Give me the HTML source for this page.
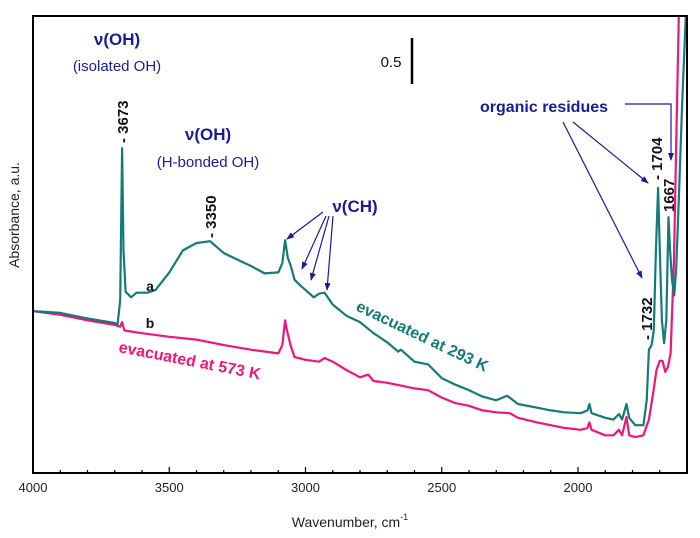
<!DOCTYPE html>
<html><head><meta charset="utf-8"><style>
body{margin:0;background:#fff}
svg{display:block;font-family:"Liberation Sans","DejaVu Sans",sans-serif}
</style></head><body>
<svg id="chart" width="700" height="538" viewBox="0 0 700 538">
<defs>
<clipPath id="plotclip"><rect x="33" y="16" width="654" height="457"/></clipPath>
<marker id="arr" markerWidth="8" markerHeight="8" refX="7" refY="4" orient="auto" markerUnits="userSpaceOnUse"><path d="M0,1 L8,4 L0,7 Z" fill="#1a1a9c"/></marker>
</defs>
<g id="series" clip-path="url(#plotclip)"></g>
<rect x="33" y="16" width="654" height="457" fill="none" stroke="#000" stroke-width="2"/>
<g id="axes"></g>
<text x="350" y="527" text-anchor="middle" font-size="14" fill="#222">Wavenumber, cm<tspan font-size="9" dy="-7">-1</tspan></text>
<text transform="translate(19,215) rotate(-90)" text-anchor="middle" font-size="14" fill="#222">Absorbance, a.u.</text>

<g font-weight="bold" fill="#1a1a9c">
<text x="117" y="45" text-anchor="middle" font-size="17">ν(OH)</text>
<text x="208" y="140" text-anchor="middle" font-size="17">ν(OH)</text>
<text x="355" y="212" text-anchor="middle" font-size="17">ν(CH)</text>
<text x="544" y="112" text-anchor="middle" font-size="16">organic residues</text>
</g>
<g fill="#1a1a9c" font-size="15">
<text x="117" y="71" text-anchor="middle">(isolated OH)</text>
<text x="208" y="167" text-anchor="middle">(H-bonded OH)</text>
</g>
<g fill="#111" font-weight="bold" font-size="15">
<text transform="translate(128,143) rotate(-90)">- 3673</text>
<text transform="translate(216,238) rotate(-90)">- 3350</text>
<text transform="translate(662,180) rotate(-90)">- 1704</text>
<text transform="translate(674,212) rotate(-90)">1667</text>
<text transform="translate(652,340) rotate(-90)">- 1732</text>
</g>
<g stroke="#1a1a9c" stroke-width="1.2" fill="none" marker-end="url(#arr)">
<line x1="323" y1="212" x2="287" y2="239"/>
<line x1="326" y1="216" x2="302" y2="269"/>
<line x1="329" y1="216" x2="311" y2="280"/>
<line x1="333" y1="216" x2="327" y2="290"/>
<line x1="563" y1="122" x2="642" y2="278"/>
<line x1="573" y1="122" x2="648" y2="183"/>
<polyline points="625,104 671,104 671,160"/>
</g>
<text x="391" y="67" text-anchor="middle" font-size="15" fill="#111">0.5</text>
<line x1="412" y1="38" x2="412" y2="84" stroke="#000" stroke-width="2.5"/>
<text x="150" y="291" text-anchor="middle" font-size="14" font-weight="bold" fill="#111">a</text>
<text x="150" y="328" text-anchor="middle" font-size="14" font-weight="bold" fill="#111">b</text>
<text transform="translate(355,310) rotate(25.5)" font-size="16" font-weight="bold" fill="#137b78">evacuated at 293 K</text>
<text transform="translate(118,352) rotate(11)" font-size="16" font-weight="bold" fill="#f0157a">evacuated at 573 K</text>
</svg>
<script>
const wnA = [4000,3900,3800,3700,3690,3680,3673,3668,3660,3640,3620,3580,3550,3500,3450,3400,3350,3300,3250,3200,3150,3100,3085,3075,3065,3055,3040,3020,3000,2970,2950,2930,2900,2850,2800,2750,2700,2660,2650,2600,2550,2500,2450,2400,2350,2300,2260,2220,2150,2100,2050,1990,1965,1958,1950,1900,1870,1850,1838,1822,1812,1790,1760,1748,1740,1730,1722,1714,1706,1700,1692,1684,1676,1668,1662,1655,1647,1640,1630,1618,1605,1598];
const absA = [1.76,1.74,1.68,1.63,1.61,1.88,3.53,2.42,1.97,1.91,1.96,1.96,1.99,2.18,2.42,2.50,2.52,2.39,2.32,2.25,2.17,2.18,2.28,2.53,2.34,2.26,2.10,2.04,1.99,1.91,1.95,1.96,1.83,1.71,1.64,1.52,1.42,1.32,1.34,1.21,1.18,1.03,0.96,0.90,0.83,0.79,0.84,0.75,0.71,0.68,0.66,0.65,0.68,0.75,0.65,0.60,0.58,0.64,0.58,0.75,0.60,0.52,0.52,0.79,1.34,1.39,1.55,2.42,3.10,2.42,1.66,1.41,1.66,2.78,2.42,2.10,1.93,2.20,2.97,4.00,4.92,5.14];
const wnB = [4000,3900,3800,3700,3680,3673,3665,3600,3500,3400,3300,3200,3100,3085,3075,3068,3055,3040,3000,2950,2930,2900,2850,2800,2770,2750,2700,2650,2600,2550,2500,2450,2400,2350,2300,2250,2220,2150,2100,2050,1990,1965,1958,1950,1900,1870,1850,1838,1822,1812,1790,1760,1740,1725,1712,1700,1690,1680,1670,1660,1648,1640,1630,1600];
const absB = [1.76,1.72,1.66,1.61,1.59,1.64,1.55,1.52,1.48,1.45,1.39,1.34,1.30,1.39,1.66,1.55,1.39,1.26,1.23,1.21,1.25,1.21,1.12,1.04,1.07,1.00,0.98,0.95,0.92,0.90,0.82,0.76,0.73,0.68,0.66,0.65,0.60,0.55,0.52,0.49,0.47,0.49,0.55,0.47,0.41,0.41,0.47,0.41,0.61,0.41,0.39,0.41,0.58,0.85,1.12,1.22,1.22,1.10,1.15,1.30,2.28,3.51,4.97,5.14];
const xTicks = [4000,3500,3000,2500,2000];
const xMin = 1600, xMax = 4000, yMin = 0, yMax = 457/92;
const X0 = 33, X1 = 687, Y0 = 473, Y1 = 16;
function xs(w){ return X0 + (xMax - w) / (xMax - xMin) * (X1 - X0); }
function ys(a){ return Y0 - (a - yMin) / (yMax - yMin) * (Y0 - Y1); }
const NS = "http://www.w3.org/2000/svg";
function pathFor(wn, ab){ return wn.map((w,i)=>(i?"L":"M")+xs(w).toFixed(1)+","+ys(ab[i]).toFixed(1)).join(""); }
const g = document.getElementById("series");
const pb = document.createElementNS(NS,"path");
pb.setAttribute("d", pathFor(wnB, absB));
pb.setAttribute("fill","none"); pb.setAttribute("stroke","#f0157a"); pb.setAttribute("stroke-width","2.2"); pb.setAttribute("stroke-linejoin","round");


g.appendChild(pb);
const pa = document.createElementNS(NS,"path");
pa.setAttribute("d", pathFor(wnA, absA));
pa.setAttribute("fill","none"); pa.setAttribute("stroke","#137b78"); pa.setAttribute("stroke-width","2.2"); pa.setAttribute("stroke-linejoin","round");


g.appendChild(pa);
const ax = document.getElementById("axes");
for (let w = 3900; w > 1600; w -= 100) {
  const t = document.createElementNS(NS,"line");
  const major = w % 500 === 0;
  t.setAttribute("x1", xs(w)); t.setAttribute("x2", xs(w));
  t.setAttribute("y1", Y0); t.setAttribute("y2", Y0 - (major ? 6 : 3));
  t.setAttribute("stroke","#000"); t.setAttribute("stroke-width","1.2");
  
  
  ax.appendChild(t);
}
xTicks.forEach(w => {
  const t = document.createElementNS(NS,"text");
  t.setAttribute("x", xs(w)); t.setAttribute("y", 492);
  t.setAttribute("text-anchor","middle"); t.setAttribute("font-size","13"); t.setAttribute("fill","#222");
  t.textContent = w;
  
  
  ax.appendChild(t);
});
</script>
</body></html>
